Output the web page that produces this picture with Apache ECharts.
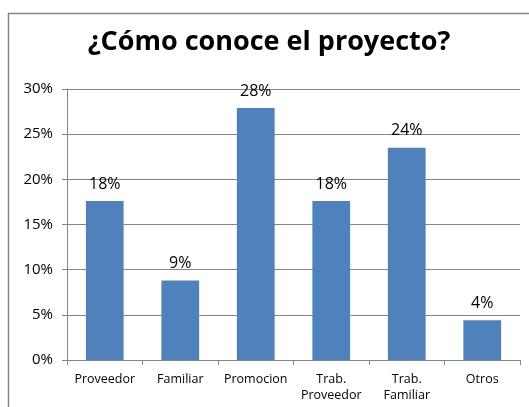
<!DOCTYPE html>
<html>
<head>
<meta charset="utf-8">
<script src="https://cdn.jsdelivr.net/npm/echarts@6/dist/echarts.min.js"></script>
<style>html,body{margin:0;padding:0;background:#fff;}#c{width:529px;height:407px;}</style>
</head>
<body>
<div id="c"></div>
<script>
const categories = ['Proveedor', 'Familiar', 'Promocion', 'Trab.\nProveedor', 'Trab.\nFamiliar', 'Otros'];
const values = [17.6, 8.8, 27.9, 17.6, 23.5, 4.4];
const yTicks = [0, 5, 10, 15, 20, 25, 30];
const titleText = '¿Cómo conoce el proyecto?';

const chart = echarts.init(document.getElementById('c'), null, {renderer: 'canvas'});
const font = 'Open Sans';
chart.setOption({
  animation: false,
  backgroundColor: '#fff',
  title: {
    text: titleText,
    left: 264, textAlign: 'center', top: 24,
    textStyle: {fontFamily: font, fontWeight: 'bold', fontSize: 27, color: '#000'}
  },
  graphic: [{
    type: 'rect', shape: {x: 8.5, y: 13.5, width: 540, height: 420},
    style: {fill: null, stroke: '#868686', lineWidth: 1.5}, silent: true, z: 100
  }],
  grid: {left: 67, right: 9, top: 89, bottom: 47},
  xAxis: {
    type: 'category', data: categories,
    axisLine: {lineStyle: {color: '#868686'}},
    axisTick: {show: true, length: 5, lineStyle: {color: '#868686'}},
    axisLabel: {fontFamily: font, fontSize: 12.5, color: '#000', margin: 11, lineHeight: 16, interval: 0}
  },
  yAxis: {
    type: 'value', min: yTicks[0], max: yTicks[yTicks.length - 1], interval: 5,
    axisLine: {show: true, lineStyle: {color: '#868686'}},
    axisTick: {show: true, length: 5, lineStyle: {color: '#868686'}},
    splitLine: {lineStyle: {color: '#868686'}},
    axisLabel: {fontFamily: font, fontSize: 15, color: '#000', margin: 14, formatter: v => v + '%'}
  },
  series: [{
    type: 'bar', data: values, barCategoryGap: '50%',
    itemStyle: {color: '#4F81BD'},
    label: {show: true, position: 'top', distance: 9, fontFamily: font, fontSize: 16, color: '#000',
      formatter: p => Math.round(p.value) + '%'}
  }]
});
</script>
</body>
</html>
